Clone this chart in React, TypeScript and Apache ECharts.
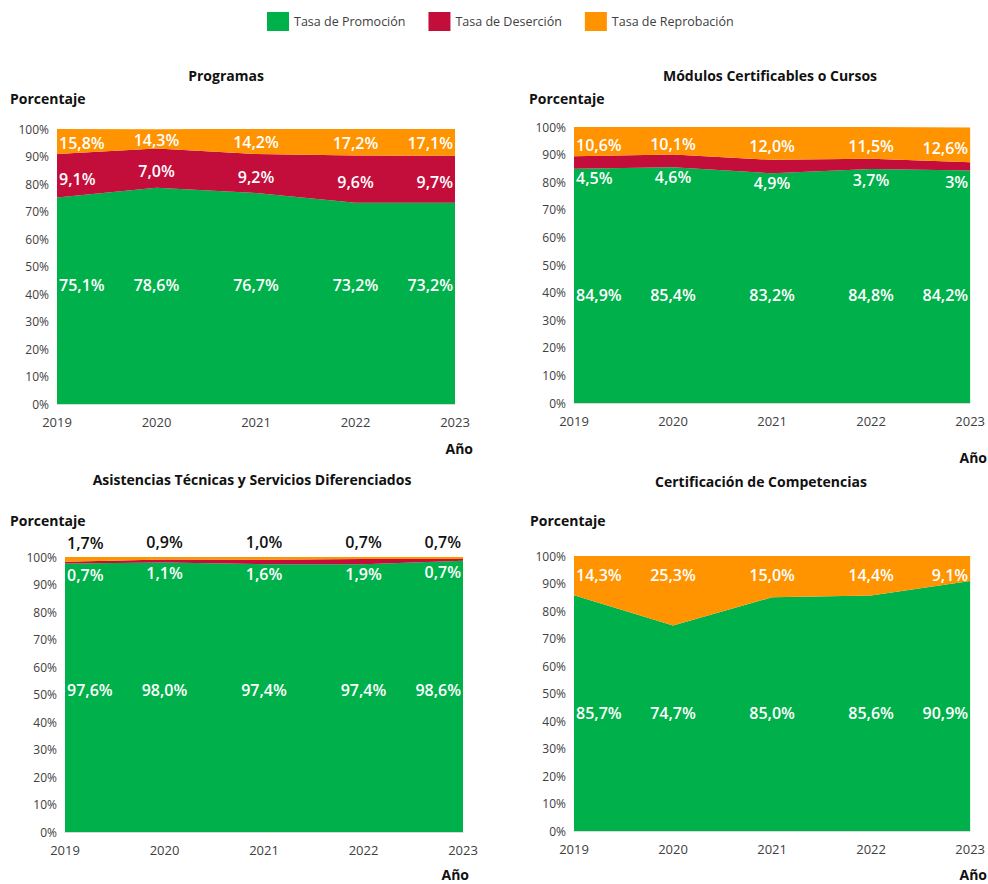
import React, { useEffect, useRef } from "react";
import * as echarts from "echarts";

const years = ["2019", "2020", "2021", "2022", "2023"];
const yTicks = [0, 100, 10];

// Programas
const progPromocion = [75.1, 78.6, 76.7, 73.2, 73.2];
const progDesercion = [15.8, 14.3, 14.2, 17.2, 17.1]; // red band as drawn
const progReprobacion = [9.1, 7.0, 9.2, 9.6, 9.7]; // orange band as drawn
// Módulos Certificables o Cursos
const modPromocion = [84.9, 85.4, 83.2, 84.8, 84.2];
const modDesercion = [4.5, 4.6, 4.9, 3.7, 3.0];
const modDesercionText = ["4,5%", "4,6%", "4,9%", "3,7%", "3%"];
const modReprobacion = [10.6, 10.1, 12.0, 11.5, 12.6];
// Asistencias Técnicas y Servicios Diferenciados
const atPromocion = [97.6, 98.0, 97.4, 97.4, 98.6];
const atDesercion = [0.7, 1.1, 1.6, 1.9, 0.7];
const atReprobacion = [1.7, 0.9, 1.0, 0.7, 0.7];
// Certificación de Competencias
const certPromocion = [85.7, 74.7, 85.0, 85.6, 90.9];
const certReprobacion = [14.3, 25.3, 15.0, 14.4, 9.1];

const G = "#00B14B";
const R = "#C30D3B";
const O = "#FF9300";
const FONT = "Open Sans";
const fmt = (v: number) => v.toFixed(1).replace(".", ",") + "%";

type Band = {
  name: string;
  color: string;
  values: number[];
  texts: string[];
  dy: number;
  flat?: boolean; // label row placed at the mean band centre
  textColor?: string;
};
type Panel = { grid: any; bands: Band[] };

const panels: Panel[] = [
  {
    grid: { left: 57, top: 129, width: 398, height: 275 },
    bands: [
      { name: "Tasa de Promoción", color: G, values: progPromocion, texts: progPromocion.map(fmt), dy: -15, flat: true },
      { name: "Tasa de Deserción", color: R, values: progDesercion, texts: progReprobacion.map(fmt), dy: 3 },
      { name: "Tasa de Reprobación", color: O, values: progReprobacion, texts: progDesercion.map(fmt), dy: 1 },
    ],
  },
  {
    grid: { left: 574, top: 127, width: 398, height: 276 },
    bands: [
      { name: "Tasa de Promoción", color: G, values: modPromocion, texts: modPromocion.map(fmt), dy: 9, flat: true },
      { name: "Tasa de Deserción", color: R, values: modDesercion, texts: modDesercionText, dy: 16 },
      { name: "Tasa de Reprobación", color: O, values: modReprobacion, texts: modReprobacion.map(fmt), dy: 3 },
    ],
  },
  {
    grid: { left: 65, top: 557, width: 398, height: 275 },
    bands: [
      { name: "Tasa de Promoción", color: G, values: atPromocion, texts: atPromocion.map(fmt), dy: -8, flat: true },
      { name: "Tasa de Deserción", color: R, values: atDesercion, texts: atDesercion.map(fmt), dy: 12 },
      { name: "Tasa de Reprobación", color: O, values: atReprobacion, texts: atReprobacion.map(fmt), dy: -16, textColor: "#111111" },
    ],
  },
  {
    grid: { left: 574, top: 556, width: 398, height: 275 },
    bands: [
      { name: "Tasa de Promoción", color: G, values: certPromocion, texts: certPromocion.map(fmt), dy: -2, flat: true },
      { name: "Tasa de Reprobación", color: O, values: certReprobacion, texts: certReprobacion.map(fmt), dy: -2, flat: true },
    ],
  },
];

const texts = [
  { t: "Programas", x: 226, y: 75, a: "center" },
  { t: "Módulos Certificables o Cursos", x: 770, y: 75, a: "center" },
  { t: "Asistencias Técnicas y Servicios Diferenciados", x: 252, y: 479, a: "center" },
  { t: "Certificación de Competencias", x: 761, y: 481, a: "center" },
  { t: "Porcentaje", x: 10, y: 98, a: "left" },
  { t: "Porcentaje", x: 529, y: 98, a: "left" },
  { t: "Porcentaje", x: 10, y: 520, a: "left" },
  { t: "Porcentaje", x: 530, y: 520, a: "left" },
  { t: "Año", x: 473, y: 448, a: "right" },
  { t: "Año", x: 987, y: 457, a: "right" },
  { t: "Año", x: 469, y: 874, a: "right" },
  { t: "Año", x: 987, y: 874, a: "right" },
];

const mean = (a: number[]) => a.reduce((s, v) => s + v, 0) / a.length;

function buildOption() {
  const grids: any[] = [];
  const xAxes: any[] = [];
  const yAxes: any[] = [];
  const series: any[] = [];
  panels.forEach((p, gi) => {
    grids.push({ ...p.grid, containLabel: false });
    xAxes.push({
      type: "category",
      gridIndex: gi,
      data: years,
      boundaryGap: false,
      axisLine: { show: true, lineStyle: { color: "#d9d9d9", width: 1 } },
      axisTick: { show: false },
      axisLabel: { color: "#404040", fontSize: 13, fontFamily: FONT, margin: 11 },
      splitLine: { show: false },
      z: 0,
    });
    yAxes.push({
      type: "value",
      gridIndex: gi,
      min: yTicks[0],
      max: yTicks[1],
      interval: yTicks[2],
      axisLine: { show: false },
      axisTick: { show: false },
      splitLine: { show: false },
      axisLabel: { color: "#404040", fontSize: 12, fontFamily: FONT, margin: 8, formatter: "{value}%" },
    });
    const base = years.map(() => 0);
    p.bands.forEach((b) => {
      series.push({
        type: "line",
        name: b.name,
        xAxisIndex: gi,
        yAxisIndex: gi,
        stack: "s" + gi,
        data: b.values,
        showSymbol: false,
        symbol: "none",
        lineStyle: { width: 0, color: b.color },
        itemStyle: { color: b.color },
        areaStyle: { color: b.color, opacity: 1 },
        silent: true,
        z: 2,
      });
      const last = years.length - 1;
      const centres = b.values.map((v, i) => base[i] + v / 2);
      const flatY = mean(centres);
      const pts = centres.map((c, i) => ({
        value: [i, b.flat ? flatY : c],
        label: {
          align: i === 0 ? "left" : i === last ? "right" : "center",
          offset: [i === 0 ? 2 : i === last ? -2 : 0, b.dy],
        },
      }));
      b.values.forEach((v, i) => (base[i] += v));
      const txt = b.texts;
      series.push({
        type: "scatter",
        name: "lbl-" + gi + "-" + b.name,
        xAxisIndex: gi,
        yAxisIndex: gi,
        data: pts,
        symbolSize: 1,
        itemStyle: { color: "rgba(255,255,255,0)", opacity: 1 },
        silent: true,
        clip: false,
        z: 10,
        label: {
          show: true,
          position: "inside",
          verticalAlign: "middle",
          color: b.textColor || "#ffffff",
          opacity: 1,
          textBorderWidth: 0,
          textBorderColor: "transparent",
          fontSize: 16,
          fontWeight: 600,
          fontFamily: FONT,
          formatter: (prm: any) => txt[prm.dataIndex],
        },
      });
    });
  });

  return {
    animation: false,
    backgroundColor: "#ffffff",
    textStyle: { fontFamily: FONT },
    legend: {
      left: 262,
      top: 7,
      icon: "rect",
      itemWidth: 22,
      itemHeight: 19,
      itemGap: 23,
      data: ["Tasa de Promoción", "Tasa de Deserción", "Tasa de Reprobación"],
      textStyle: { color: "#404040", fontSize: 12.5, fontFamily: FONT },
      selectedMode: false,
    },
    grid: grids,
    xAxis: xAxes,
    yAxis: yAxes,
    series,
    graphic: texts.map((t) => ({
      type: "text",
      x: t.x,
      y: t.y,
      silent: true,
      style: {
        text: t.t,
        fill: "#111111",
        font: `bold 14px "${FONT}"`,
        textAlign: t.a,
        textVerticalAlign: "middle",
      },
    })),
  };
}

export default function App() {
  const ref = useRef<HTMLDivElement>(null);
  useEffect(() => {
    if (!ref.current) return;
    const chart = echarts.init(ref.current, undefined, { renderer: "svg" });
    chart.setOption(buildOption() as any);
    return () => chart.dispose();
  }, []);
  return (
    <div
      ref={ref}
      style={{ position: "fixed", left: 0, top: 0, width: 988, height: 884, background: "#fff" }}
    />
  );
}
